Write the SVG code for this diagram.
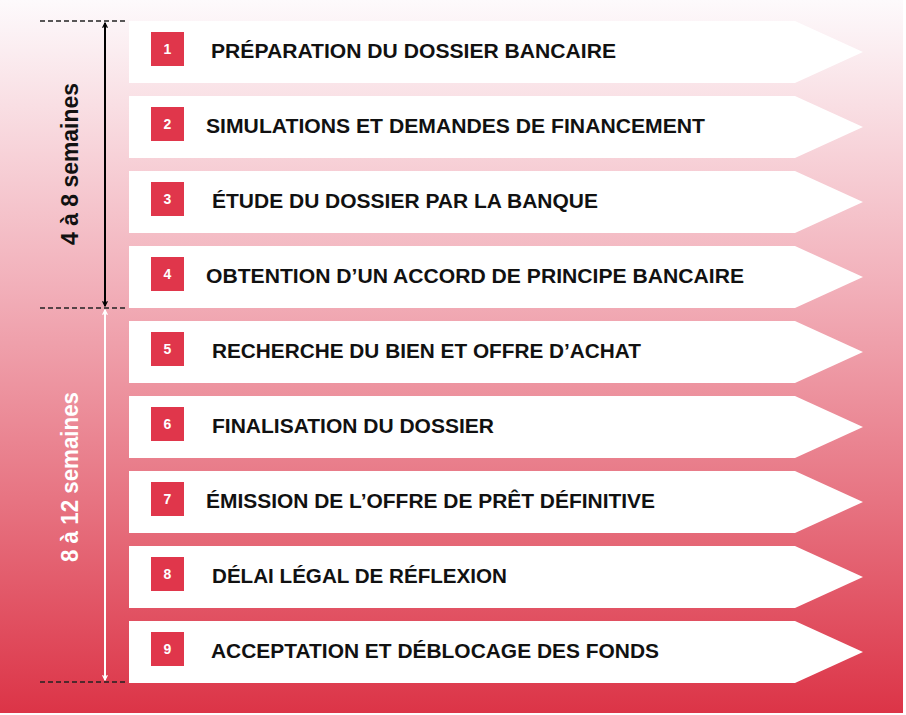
<svg xmlns="http://www.w3.org/2000/svg" width="906" height="715" viewBox="0 0 906 715">
<defs>
<linearGradient id="bg" x1="0" y1="0" x2="0" y2="1">
<stop offset="0" stop-color="#fdfafc"/>
<stop offset="0.4" stop-color="#f2b0ba"/>
<stop offset="0.7" stop-color="#e77482"/>
<stop offset="1" stop-color="#dc3447"/>
</linearGradient>
<marker id="ab" viewBox="0 0 10 10" refX="9" refY="5" markerWidth="6" markerHeight="6" orient="auto-start-reverse" markerUnits="userSpaceOnUse">
<path d="M1,1 L9,5 L1,9" fill="none" stroke="#000" stroke-width="2"/>
</marker>
<marker id="aw" viewBox="0 0 10 10" refX="9" refY="5" markerWidth="6" markerHeight="6" orient="auto-start-reverse" markerUnits="userSpaceOnUse">
<path d="M1,1 L9,5 L1,9" fill="none" stroke="#fff" stroke-width="2"/>
</marker>
<path id="ban" d="M0,0 H666 L734,31 L666,62 H0 Z"/>
</defs>
<style>
.b{fill:#fff}
.n{fill:#e0364b}
.nt{fill:#fff;font-family:"Liberation Sans",Arial,sans-serif;font-weight:bold;font-size:14px;text-anchor:middle}
.t{fill:#111;font-family:"Liberation Sans",Arial,sans-serif;font-weight:bold;font-size:20.5px}
.d{stroke:#222;stroke-width:1.3;stroke-dasharray:5,3;fill:none}
.lab{font-family:"Liberation Sans",Arial,sans-serif;font-weight:bold;font-size:23.5px;text-anchor:middle}
</style>
<rect x="0" y="0" width="903" height="713" fill="url(#bg)"/>
<g id="connectors">
<line class="d" x1="40" y1="21" x2="128" y2="21"/>
<line class="d" x1="40" y1="308" x2="128" y2="308"/>
<line class="d" x1="40" y1="682" x2="128" y2="682"/>
<line x1="105" y1="23" x2="105" y2="306" stroke="#000" stroke-width="2" marker-start="url(#ab)" marker-end="url(#ab)"/>
<line x1="105" y1="310" x2="105" y2="680" stroke="#fff" stroke-width="2" marker-start="url(#aw)" marker-end="url(#aw)"/>
</g>
<g id="label1"><text class="lab" fill="#111" transform="translate(78,164) rotate(-90)" textLength="162" lengthAdjust="spacingAndGlyphs">4 à 8 semaines</text></g>
<g id="label2"><text class="lab" fill="#fff" transform="translate(78,477) rotate(-90)" textLength="170" lengthAdjust="spacingAndGlyphs">8 à 12 semaines</text></g>
<g id="step1"><use href="#ban" class="b" x="129" y="21"/><rect class="n" x="151" y="32" width="33" height="34"/><text class="nt" x="167.5" y="54">1</text><text class="t" x="211" y="58" textLength="405" lengthAdjust="spacingAndGlyphs">PRÉPARATION DU DOSSIER BANCAIRE</text></g>
<g id="step2"><use href="#ban" class="b" x="129" y="96"/><rect class="n" x="151" y="107" width="33" height="34"/><text class="nt" x="167.5" y="129">2</text><text class="t" x="206" y="133" textLength="499" lengthAdjust="spacingAndGlyphs">SIMULATIONS ET DEMANDES DE FINANCEMENT</text></g>
<g id="step3"><use href="#ban" class="b" x="129" y="171"/><rect class="n" x="151" y="182" width="33" height="34"/><text class="nt" x="167.5" y="204">3</text><text class="t" x="212" y="208" textLength="386" lengthAdjust="spacingAndGlyphs">ÉTUDE DU DOSSIER PAR LA BANQUE</text></g>
<g id="step4"><use href="#ban" class="b" x="129" y="246"/><rect class="n" x="151" y="257" width="33" height="34"/><text class="nt" x="167.5" y="279">4</text><text class="t" x="206" y="283" textLength="538" lengthAdjust="spacingAndGlyphs">OBTENTION D’UN ACCORD DE PRINCIPE BANCAIRE</text></g>
<g id="step5"><use href="#ban" class="b" x="129" y="321"/><rect class="n" x="151" y="332" width="33" height="34"/><text class="nt" x="167.5" y="354">5</text><text class="t" x="212" y="358" textLength="429" lengthAdjust="spacingAndGlyphs">RECHERCHE DU BIEN ET OFFRE D’ACHAT</text></g>
<g id="step6"><use href="#ban" class="b" x="129" y="396"/><rect class="n" x="151" y="407" width="33" height="34"/><text class="nt" x="167.5" y="429">6</text><text class="t" x="212" y="433" textLength="282" lengthAdjust="spacingAndGlyphs">FINALISATION DU DOSSIER</text></g>
<g id="step7"><use href="#ban" class="b" x="129" y="471"/><rect class="n" x="151" y="482" width="33" height="34"/><text class="nt" x="167.5" y="504">7</text><text class="t" x="206" y="508" textLength="449" lengthAdjust="spacingAndGlyphs">ÉMISSION DE L’OFFRE DE PRÊT DÉFINITIVE</text></g>
<g id="step8"><use href="#ban" class="b" x="129" y="546"/><rect class="n" x="151" y="557" width="33" height="34"/><text class="nt" x="167.5" y="579">8</text><text class="t" x="212" y="583" textLength="295" lengthAdjust="spacingAndGlyphs">DÉLAI LÉGAL DE RÉFLEXION</text></g>
<g id="step9"><use href="#ban" class="b" x="129" y="621"/><rect class="n" x="151" y="632" width="33" height="34"/><text class="nt" x="167.5" y="654">9</text><text class="t" x="211" y="658" textLength="448" lengthAdjust="spacingAndGlyphs">ACCEPTATION ET DÉBLOCAGE DES FONDS</text></g>
</svg>
